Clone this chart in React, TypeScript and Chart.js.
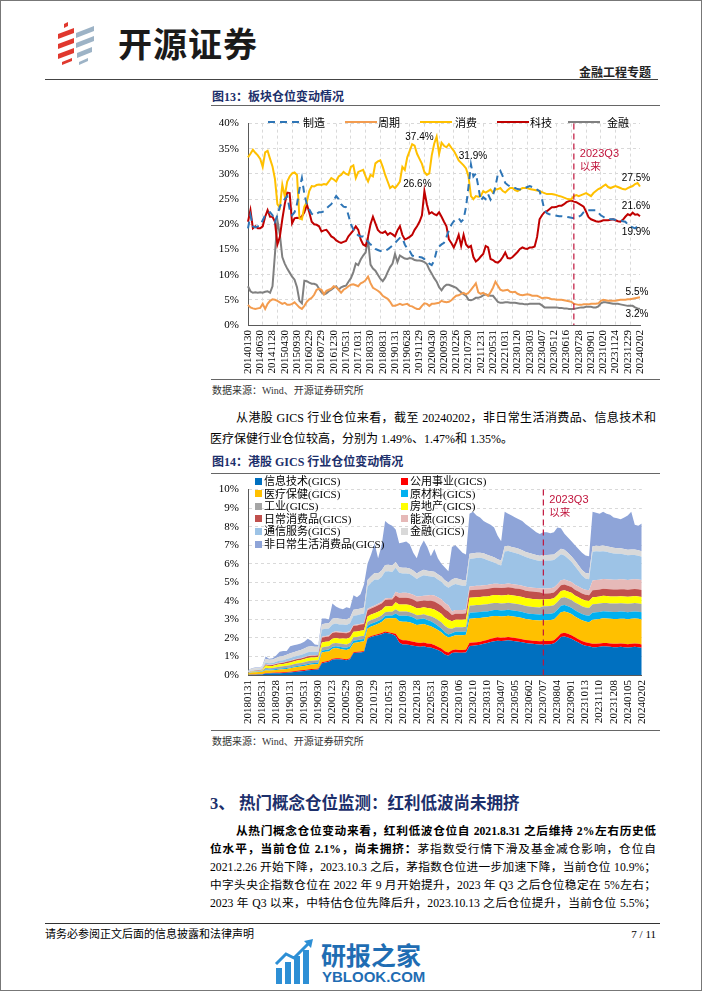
import React, { useEffect, useRef } from 'react';
import { Chart, registerables } from 'chart.js';

Chart.register(...registerables);

// ---------------- Chart 1 data (图13) ----------------
const sectorTickLabels = ['20140130','20140630','20141128','20150430','20150930','20160229','20160729','20161230','20170531','20171031','20180330','20180831','20190131','20190628','20191129','20200430','20200930','20210226','20210730','20211231','20220531','20221031','20230120','20230303','20230407','20230512','20230616','20230728','20230901','20231020','20231124','20231229','20240202'];
const sectorSeriesNames = ['制造', '周期', '消费', '科技', '金融'];
const sectorManufacturing = [
19.2,21.8,19.6,19.4,19.6,19.8,20.8,21.8,22.2,22.4,
21.8,20.5,21.8,23.5,24.4,25.0,25.6,23.0,21.8,22.4,
24.0,27.0,29.2,26.0,24.0,23.0,22.1,21.8,22.1,22.4,
22.4,22.6,23.1,23.6,24.0,24.8,25.6,25.0,24.0,23.5,
23.4,21.8,20.0,19.0,18.3,17.8,17.6,17.6,17.0,16.5,
16.0,15.7,15.1,14.9,14.7,14.7,14.7,15.0,15.4,15.8,
16.3,16.8,17.3,17.3,16.0,15.2,14.7,13.8,13.6,13.5,
13.5,13.4,13.1,12.6,12.2,11.9,12.8,14.8,15.6,16.0,
16.3,17.5,18.8,19.9,20.6,21.0,21.2,20.5,21.0,23.5,
27.5,31.9,29.5,30.1,27.5,24.7,25.4,25.0,26.0,24.9,
25.8,27.5,30.0,30.6,29.5,28.2,27.8,27.5,27.3,27.2,
27.0,26.9,27.0,27.2,27.4,27.6,27.4,27.2,26.9,26.6,
25.0,22.8,22.2,22.0,21.9,21.8,21.7,21.6,21.6,21.5,
21.5,21.4,21.3,21.2,21.3,21.5,21.8,22.4,22.8,22.8,
22.8,22.8,22.8,22.3,21.8,21.5,21.2,21.1,21.0,21.0,
20.9,20.8,20.8,20.6,20.5,20.0,19.6,19.4,19.2,19.6,
19.9];
const sectorCyclical = [
4.0,3.5,3.3,3.2,3.3,3.4,4.2,3.2,4.2,4.8,
5.1,5.0,4.8,4.5,4.2,4.4,4.0,4.0,4.2,4.5,
4.0,3.5,3.2,3.8,4.6,5.1,5.4,6.0,7.0,7.2,
7.0,6.1,6.8,7.0,7.2,7.7,7.5,7.0,6.4,7.0,
7.3,7.7,8.0,8.1,7.9,7.7,8.3,8.5,8.9,9.6,
8.3,7.4,7.1,6.8,6.4,5.8,5.5,5.2,4.6,3.8,
3.8,4.0,4.2,4.0,4.1,4.2,3.8,3.7,3.4,3.2,
3.2,3.8,4.3,4.2,3.8,4.2,4.2,4.3,4.4,4.8,
4.6,4.5,4.6,4.9,5.4,5.8,5.9,6.2,6.4,6.1,
6.4,7.0,7.6,8.3,6.5,6.2,6.4,6.1,5.8,6.5,
7.4,8.6,7.8,7.0,6.8,6.9,7.0,6.6,6.5,6.6,
6.2,6.0,5.9,6.0,6.1,6.0,5.8,5.8,5.8,5.6,
5.3,5.4,5.4,5.3,5.1,5.1,5.0,5.0,5.0,4.9,
4.8,4.7,4.6,4.2,4.1,4.0,4.0,4.1,4.1,4.1,
4.2,4.2,4.2,4.3,4.8,5.0,4.9,4.8,4.8,4.8,
4.8,4.9,5.0,5.0,5.0,5.1,5.1,5.2,5.3,5.4,
5.5];
const sectorConsumer = [
33.3,34.0,34.8,34.2,33.7,33.0,31.4,34.3,34.6,33.0,
31.5,29.0,24.0,23.3,27.9,25.6,28.5,29.5,30.1,30.3,
29.8,21.2,21.0,23.5,24.4,26.6,27.6,27.5,27.8,27.9,
27.8,28.0,27.9,28.5,29.2,28.9,28.5,29.5,29.8,30.4,
30.0,29.8,31.4,31.7,29.2,30.4,30.6,30.8,29.5,28.5,
29.8,29.5,32.1,32.5,32.7,31.4,29.8,28.5,27.2,27.6,
27.2,27.8,28.5,31.4,30.8,33.3,34.6,35.9,35.6,34.0,
33.0,32.0,30.4,29.8,30.1,33.7,36.0,37.4,34.0,36.2,
35.6,35.3,35.9,35.2,34.6,33.7,32.7,32.2,31.7,31.1,
29.5,25.6,25.0,25.6,25.5,25.6,26.6,26.3,26.6,26.9,
26.3,26.9,27.0,27.2,26.6,26.3,26.8,27.2,27.2,26.8,
26.6,26.9,27.2,27.2,27.2,27.0,26.9,26.8,26.7,26.6,
26.4,26.2,26.0,26.0,26.0,25.9,25.8,25.6,25.5,25.3,
25.1,25.0,25.0,25.6,25.8,25.6,25.8,26.0,26.2,25.9,
25.6,26.2,26.6,27.0,27.2,27.6,27.9,27.4,27.2,27.4,
27.6,27.4,27.2,27.0,26.9,27.2,27.4,27.6,28.0,28.2,
27.5];
const sectorTech = [
20.5,22.8,19.2,19.6,19.2,19.2,19.6,21.5,22.8,21.5,
21.5,20.5,16.0,17.5,21.0,24.0,26.3,26.2,20.2,21.2,
21.3,21.2,21.6,22.4,24.0,22.4,20.5,20.0,19.9,19.6,
18.6,18.8,18.9,18.3,17.6,17.3,16.8,16.5,16.3,16.5,
16.7,17.6,18.2,18.8,19.6,18.9,17.0,16.0,15.7,17.5,
20.0,21.5,20.2,18.9,18.4,18.3,18.6,17.9,18.3,18.0,
17.6,18.8,19.6,17.9,17.0,17.2,17.5,17.9,18.9,19.6,
20.5,21.8,26.6,24.0,22.1,22.4,22.0,21.8,22.4,21.5,
20.5,19.6,17.0,16.3,15.4,16.5,17.9,15.7,17.9,16.0,
15.4,15.7,13.5,12.6,13.0,13.6,14.1,15.7,15.4,13.1,
12.9,12.5,12.4,12.8,13.5,14.4,13.3,13.2,13.5,14.0,
14.5,15.1,15.4,15.2,15.1,15.4,15.4,15.6,17.5,21.0,
21.8,22.4,22.6,23.0,23.4,23.4,23.5,23.7,23.7,24.0,
24.4,24.6,24.7,24.5,24.4,24.1,23.8,23.5,22.5,21.4,
21.0,20.8,20.6,20.5,20.6,20.8,20.8,20.8,20.9,21.0,
20.8,20.6,20.5,20.9,21.5,22.0,21.8,22.3,21.9,22.0,
21.6];
const sectorFinance = [
7.7,6.7,6.4,6.5,6.4,6.5,6.4,6.6,6.7,6.4,
7.7,14.1,20.8,18.0,13.5,12.2,11.2,10.4,9.6,9.0,
7.5,4.8,4.3,8.8,8.7,8.4,8.2,8.2,8.0,7.2,
6.5,6.1,6.3,6.7,7.0,7.4,7.7,7.0,7.5,7.7,
7.8,8.6,9.3,10.5,12.2,11.9,13.0,13.8,14.4,17.0,
12.0,11.2,10.8,10.0,9.2,8.7,9.4,10.5,11.5,12.2,
14.1,12.5,13.8,13.5,13.2,13.1,13.3,13.2,12.9,12.8,
12.8,12.7,12.5,12.1,11.0,10.2,9.3,8.6,7.5,6.9,
7.6,8.0,8.0,7.8,7.6,7.4,6.9,6.5,6.1,5.8,
5.0,4.9,5.1,5.4,5.4,5.6,5.9,6.1,5.9,5.8,
5.8,5.2,4.6,4.4,4.4,4.5,4.5,4.4,4.4,4.4,
4.3,4.2,4.2,4.1,4.1,4.2,4.2,4.2,4.2,4.2,
3.9,3.5,3.5,3.5,3.5,3.5,3.5,3.4,3.4,3.3,
3.3,3.2,3.2,3.2,3.3,3.4,3.5,3.5,3.6,3.6,
3.6,3.5,3.5,3.7,4.3,4.5,4.5,4.4,4.3,4.2,
4.2,4.2,4.1,4.0,3.9,3.8,3.8,3.8,3.5,3.3,
3.2];
const sectorQ3Index = 133;
const sectorCallouts = [
  { series: 2, at: 77, text: '37.4%' },
  { series: 3, at: 72, text: '26.6%' },
  { series: 0, at: 91, text: '31.9%' },
  { series: 2, at: 160, text: '27.5%' },
  { series: 3, at: 160, text: '21.6%' },
  { series: 0, at: 160, text: '19.9%' },
  { series: 1, at: 160, text: '5.5%' },
  { series: 4, at: 160, text: '3.2%' },
];

// ---------------- Chart 2 data (图14) ----------------
const gicsTickLabels = ['20180131','20180531','20180928','20190131','20190531','20190930','20200123','20200529','20200930','20210129','20210531','20210930','20220128','20220531','20220930','20230106','20230210','20230310','20230407','20230505','20230602','20230707','20230804','20230901','20231013','20231110','20231208','20240105','20240202'];
const gicsNames = ['信息技术(GICS)', '公用事业(GICS)', '医疗保健(GICS)', '原材料(GICS)', '工业(GICS)', '房地产(GICS)', '日常消费品(GICS)', '能源(GICS)', '通信服务(GICS)', '金融(GICS)', '非日常生活消费品(GICS)'];
const gicsIT = [
0.01,0.02,0.02,0.03,0.03,
0.08,0.08,0.09,0.1,0.1,0.11,0.12,0.14,0.16,0.18,0.2,0.22,0.25,0.27,0.28,0.3,
0.64,0.68,0.72,0.82,0.85,0.85,0.82,0.8,0.85,1.18,1.2,1.22,1.25,
1.95,2.05,2.1,2.15,2.2,2.28,2.25,2.2,
2.1,1.75,1.65,1.65,1.62,1.58,1.55,1.52,1.55,
1.5,1.48,1.42,1.35,1.25,1.1,1.04,
1.18,1.22,1.2,1.2,1.22,
1.57,1.58,1.6,1.63,1.68,1.72,1.78,1.82,1.85,1.83,1.85,1.88,1.85,1.82,1.8,1.76,1.72,1.7,1.68,1.66,1.65,
1.65,1.65,1.66,1.7,1.85,2.05,2.08,2.02,1.95,1.85,1.75,1.65,1.58,1.55,1.5,1.5,1.52,1.55,1.54,1.52,1.5,1.5,1.52,1.5,1.48,1.5,1.52,1.5,1.47];
const gicsUtilities = [
0.01,0.01,0.01,0.01,0.01,
0.03,0.03,0.03,0.03,0.04,0.04,0.04,0.04,0.04,0.05,0.05,0.05,0.05,0.05,0.05,0.05,
0.05,0.05,0.05,0.05,0.05,0.05,0.05,0.05,0.05,0.05,0.05,0.05,0.05,
0.06,0.06,0.06,0.06,0.06,0.06,0.06,0.06,
0.12,0.2,0.22,0.22,0.22,0.22,0.2,0.2,0.2,
0.2,0.2,0.2,0.18,0.18,0.18,0.18,
0.15,0.15,0.15,0.15,0.15,
0.17,0.17,0.17,0.17,0.17,0.17,0.17,0.18,0.18,0.18,0.17,0.17,0.17,0.17,0.17,0.17,0.17,0.17,0.17,0.17,0.17,
0.18,0.18,0.18,0.18,0.18,0.19,0.2,0.2,0.19,0.18,0.18,0.18,0.18,0.18,0.18,0.18,0.18,0.18,0.18,0.18,0.18,0.18,0.18,0.18,0.18,0.18,0.18,0.18,0.18];
const gicsHealthCare = [
0.06,0.1,0.12,0.12,0.13,
0.14,0.13,0.13,0.14,0.15,0.16,0.17,0.18,0.2,0.2,0.21,0.22,0.23,0.24,0.25,0.25,
0.52,0.52,0.5,0.55,0.55,0.52,0.5,0.5,0.52,0.5,0.5,0.52,0.52,
0.5,0.5,0.52,0.55,0.6,0.7,0.75,0.8,
0.85,0.95,1.0,1.0,1.0,0.98,0.95,1.0,1.0,
0.98,0.95,0.92,0.9,0.88,0.85,0.8,
0.75,0.78,0.8,0.8,0.8,
1.3,1.3,1.3,1.28,1.25,1.22,1.2,1.18,1.15,1.15,1.15,1.15,1.15,1.15,1.15,1.15,1.13,1.12,1.12,1.12,1.12,
1.12,1.12,1.12,1.12,1.15,1.15,1.15,1.15,1.15,1.12,1.12,1.12,1.12,1.12,1.3,1.32,1.32,1.33,1.33,1.33,1.34,1.34,1.34,1.35,1.35,1.35,1.35,1.35,1.35];
const gicsMaterials = [
0.01,0.02,0.02,0.02,0.03,
0.04,0.04,0.04,0.05,0.05,0.05,0.05,0.05,0.06,0.06,0.06,0.06,0.07,0.07,0.07,0.07,
0.1,0.1,0.1,0.1,0.1,0.1,0.12,0.12,0.12,0.12,0.12,0.12,0.12,
0.15,0.15,0.15,0.15,0.15,0.15,0.15,0.15,
0.25,0.3,0.33,0.33,0.33,0.32,0.3,0.3,0.3,
0.28,0.27,0.25,0.22,0.2,0.18,0.17,
0.17,0.18,0.18,0.18,0.18,
0.32,0.32,0.32,0.32,0.32,0.32,0.32,0.32,0.32,0.32,0.32,0.32,0.32,0.32,0.32,0.32,0.32,0.32,0.32,0.32,0.32,
0.34,0.34,0.34,0.34,0.34,0.34,0.34,0.34,0.34,0.34,0.34,0.34,0.34,0.34,0.38,0.38,0.38,0.38,0.38,0.38,0.38,0.38,0.38,0.38,0.38,0.38,0.38,0.38,0.38];
const gicsIndustrials = [
0.01,0.02,0.02,0.02,0.03,
0.1,0.09,0.09,0.1,0.11,0.11,0.12,0.12,0.12,0.13,0.13,0.14,0.14,0.14,0.13,0.13,
0.18,0.18,0.18,0.18,0.18,0.18,0.18,0.18,0.18,0.18,0.18,0.18,0.18,
0.2,0.2,0.2,0.2,0.2,0.2,0.2,0.2,
0.22,0.22,0.22,0.22,0.22,0.22,0.22,0.22,0.22,
0.25,0.27,0.3,0.32,0.33,0.33,0.33,
0.25,0.25,0.25,0.25,0.25,
0.38,0.38,0.38,0.38,0.38,0.38,0.38,0.38,0.38,0.38,0.38,0.38,0.38,0.38,0.38,0.38,0.38,0.38,0.38,0.38,0.38,
0.42,0.42,0.42,0.42,0.42,0.42,0.42,0.42,0.42,0.42,0.42,0.42,0.42,0.42,0.45,0.45,0.45,0.45,0.45,0.45,0.45,0.45,0.45,0.45,0.45,0.45,0.45,0.45,0.45];
const gicsRealEstate = [
0.01,0.02,0.02,0.02,0.03,
0.12,0.11,0.11,0.12,0.13,0.13,0.14,0.15,0.15,0.16,0.16,0.17,0.18,0.18,0.17,0.17,
0.26,0.26,0.26,0.26,0.26,0.26,0.3,0.3,0.3,0.3,0.3,0.3,0.3,
0.3,0.3,0.3,0.3,0.3,0.3,0.3,0.3,
0.38,0.38,0.38,0.38,0.38,0.38,0.38,0.38,0.38,
0.4,0.42,0.44,0.45,0.46,0.46,0.46,
0.4,0.4,0.4,0.4,0.4,
0.43,0.43,0.43,0.43,0.43,0.43,0.43,0.43,0.43,0.43,0.43,0.43,0.43,0.43,0.43,0.43,0.43,0.43,0.43,0.43,0.43,
0.38,0.38,0.38,0.38,0.38,0.38,0.38,0.38,0.38,0.38,0.38,0.38,0.38,0.38,0.38,0.38,0.38,0.38,0.38,0.38,0.38,0.38,0.38,0.38,0.38,0.38,0.38,0.38,0.38];
const gicsStaples = [
0.01,0.01,0.02,0.02,0.02,
0.05,0.05,0.05,0.06,0.06,0.06,0.07,0.07,0.08,0.08,0.08,0.09,0.09,0.09,0.09,0.09,
0.26,0.26,0.27,0.3,0.32,0.32,0.3,0.3,0.3,0.32,0.32,0.33,0.33,
0.33,0.33,0.34,0.35,0.35,0.36,0.36,0.36,
0.37,0.37,0.37,0.37,0.37,0.37,0.37,0.37,0.37,
0.4,0.42,0.44,0.44,0.44,0.44,0.44,
0.33,0.33,0.33,0.33,0.33,
0.4,0.4,0.4,0.4,0.4,0.4,0.4,0.4,0.4,0.4,0.4,0.4,0.4,0.4,0.4,0.4,0.4,0.4,0.4,0.4,0.4,
0.31,0.31,0.31,0.31,0.31,0.31,0.31,0.31,0.31,0.31,0.31,0.31,0.31,0.31,0.38,0.38,0.38,0.38,0.38,0.38,0.38,0.38,0.38,0.38,0.38,0.38,0.38,0.38,0.38];
const gicsEnergy = [
0.01,0.01,0.01,0.01,0.01,
0.02,0.02,0.02,0.02,0.02,0.02,0.02,0.02,0.02,0.02,0.02,0.02,0.02,0.02,0.02,0.02,
0.05,0.05,0.05,0.05,0.05,0.05,0.05,0.05,0.05,0.05,0.05,0.05,0.05,
0.08,0.08,0.08,0.08,0.08,0.08,0.08,0.08,
0.2,0.24,0.26,0.26,0.26,0.26,0.26,0.26,0.26,
0.28,0.3,0.32,0.34,0.34,0.34,0.34,
0.2,0.2,0.2,0.2,0.2,
0.21,0.21,0.21,0.21,0.21,0.21,0.21,0.21,0.21,0.21,0.21,0.21,0.21,0.21,0.21,0.21,0.21,0.21,0.21,0.21,0.21,
0.27,0.27,0.27,0.27,0.27,0.27,0.27,0.27,0.27,0.27,0.27,0.27,0.27,0.27,0.53,0.53,0.53,0.53,0.53,0.53,0.53,0.53,0.53,0.53,0.53,0.53,0.53,0.53,0.53];
const gicsComms = [
0.02,0.03,0.03,0.03,0.04,
0.1,0.09,0.09,0.1,0.12,0.12,0.13,0.15,0.15,0.16,0.17,0.18,0.2,0.2,0.19,0.18,
0.4,0.4,0.38,0.42,0.42,0.4,0.4,0.4,0.42,0.5,0.5,0.5,0.52,
1.2,1.3,1.4,1.3,1.35,1.45,1.45,1.4,
1.3,1.1,1.05,1.05,1.05,1.0,0.95,1.05,1.1,
1.05,1.0,1.0,0.95,0.95,0.95,0.95,
1.4,1.4,1.35,1.3,1.28,
1.48,1.5,1.5,1.5,1.45,1.35,1.25,1.15,1.05,1.0,1.75,1.75,1.72,1.7,1.67,1.63,1.6,1.57,1.53,1.5,1.47,
1.5,1.5,1.5,1.48,1.45,1.4,1.3,1.2,1.1,1.0,0.85,0.7,0.6,0.6,1.55,1.55,1.52,1.5,1.48,1.45,1.42,1.4,1.38,1.35,1.33,1.32,1.3,1.28,1.26];
const gicsFinancials = [
0.08,0.1,0.1,0.1,0.1,
0.2,0.18,0.18,0.2,0.22,0.23,0.23,0.25,0.25,0.26,0.27,0.28,0.3,0.29,0.27,0.26,
0.28,0.28,0.28,0.3,0.3,0.3,0.3,0.3,0.3,0.32,0.32,0.32,0.32,
0.35,0.35,0.35,0.35,0.35,0.35,0.35,0.35,
0.3,0.3,0.3,0.3,0.3,0.3,0.3,0.3,0.3,
0.28,0.28,0.28,0.28,0.28,0.28,0.28,
0.32,0.32,0.32,0.32,0.32,
0.28,0.28,0.28,0.28,0.28,0.28,0.28,0.28,0.28,0.28,0.28,0.28,0.28,0.28,0.28,0.28,0.28,0.28,0.28,0.28,0.28,
0.3,0.3,0.3,0.3,0.3,0.3,0.3,0.3,0.3,0.3,0.3,0.3,0.3,0.3,0.3,0.3,0.3,0.3,0.3,0.3,0.3,0.3,0.3,0.3,0.3,0.3,0.3,0.3,0.3];
const gicsDiscretionary = [
0.02,0.02,0.03,0.02,0.03,
0.12,0.05,0.07,0.13,0.25,0.27,0.21,0.38,0.37,0.35,0.35,0.37,0.42,0.3,0.13,0.1,
0.31,0.27,0.21,0.82,0.62,0.57,0.53,0.65,0.51,0.78,0.66,0.76,1.26,
0.88,1.18,1.6,0.81,1.36,2.37,2.2,2.15,
1.76,1.29,1.37,1.42,1.3,0.97,0.82,1.3,1.57,
1.28,0.81,1.23,0.87,0.69,0.69,0.61,
1.75,1.77,1.62,1.47,1.37,
2.16,2.23,2.01,1.9,1.73,1.72,1.68,1.61,1.26,1.03,1.86,1.73,1.69,1.64,1.59,1.57,1.49,1.41,1.33,1.23,1.17,
1.23,1.23,1.17,1.2,1.3,1.1,0.87,0.83,0.8,0.83,0.88,0.93,0.95,0.93,1.85,1.78,1.74,1.82,1.75,1.75,1.64,1.61,1.56,1.7,1.84,2.03,1.33,1.32,1.49];
const gicsQ3Index = 84;

// ---------------- styles ----------------
const SERIF = "'Liberation Serif', 'Noto Sans CJK SC', serif";
const CJK = "'Noto Sans CJK SC', 'Liberation Serif', sans-serif";
const NAVY = '#1c2f6b';
const Q3RED = '#C0143C';
const sectorColors = ['#2E75B6', '#F39C4F', '#FFC000', '#C00000', '#808080'];
const gicsColors = ['#0070C0', '#FF0000', '#FFC000', '#00B0F0', '#A5A5A5', '#FFFF00', '#C0504D', '#E6B9B8', '#9DC3E6', '#D9D9D9', '#8EA4D8'];

function Txt(props: { x: number; y: number; size: number; bold?: boolean; color?: string; font?: string; w?: number; justify?: boolean; align?: 'left' | 'right'; spacing?: number; children: React.ReactNode }) {
  const { x, y, size, bold, color, font, w, justify, align, spacing, children } = props;
  const lh = Math.round(size * 1.3);
  const style: React.CSSProperties = {
    position: 'absolute', top: y - lh / 2, height: lh, lineHeight: lh + 'px', fontSize: size,
    fontWeight: bold ? 700 : 400, color: color || '#000', fontFamily: font || SERIF,
    whiteSpace: justify ? 'normal' : 'nowrap', overflow: 'visible',
  };
  if (spacing) style.letterSpacing = spacing;
  if (align === 'right') style.right = 702 - x; else style.left = x;
  if (w) style.width = w;
  if (justify) { style.textAlign = 'justify'; (style as any).textAlignLast = 'justify'; }
  return <div style={style}>{children}</div>;
}

const sectorNotesPlugin = {
  id: 'sectorNotes',
  afterDatasetsDraw(chart: any) {
    const { ctx, chartArea, scales } = chart;
    const x = scales.x.getPixelForValue(sectorQ3Index);
    ctx.save();
    ctx.strokeStyle = Q3RED; ctx.lineWidth = 1.2; ctx.setLineDash([6, 4]);
    ctx.beginPath(); ctx.moveTo(x, chartArea.top); ctx.lineTo(x, chartArea.bottom); ctx.stroke();
    ctx.setLineDash([]);
    ctx.fillStyle = Q3RED; ctx.textAlign = 'left'; ctx.textBaseline = 'middle';
    ctx.font = "11px 'Liberation Sans', 'Noto Sans CJK SC', sans-serif";
    ctx.fillText('2023Q3', x + 6, chartArea.top + 30);
    ctx.font = "10.5px 'Noto Sans CJK SC', sans-serif";
    ctx.fillText('以来', x + 6, chartArea.top + 42);
    const offsets = [[-3, 1, 'right'], [-7, -7, 'center'], [2, -8, 'center'], [-4, -8, 'center'], [-4, -10, 'center'], [-4, 7, 'center'], [-3, -5, 'center'], [-3, 5, 'center']];
    ctx.fillStyle = '#000';
    ctx.font = "10px 'Liberation Sans Narrow', 'Liberation Sans', sans-serif";
    sectorCallouts.forEach((c, k) => {
      const pt = chart.getDatasetMeta(c.series).data[c.at];
      if (!pt) return;
      ctx.textAlign = offsets[k][2];
      ctx.fillText(c.text, pt.x + (offsets[k][0] as number), pt.y + (offsets[k][1] as number));
    });
    ctx.restore();
  },
};

const gicsNotesPlugin = {
  id: 'gicsNotes',
  afterDatasetsDraw(chart: any) {
    const { ctx, chartArea, scales } = chart;
    const x = scales.x.getPixelForValue(gicsQ3Index);
    ctx.save();
    ctx.strokeStyle = Q3RED; ctx.lineWidth = 1.2; ctx.setLineDash([6, 4]);
    ctx.beginPath(); ctx.moveTo(x, chartArea.top); ctx.lineTo(x, chartArea.bottom); ctx.stroke();
    ctx.setLineDash([]);
    ctx.fillStyle = Q3RED; ctx.textAlign = 'left'; ctx.textBaseline = 'middle';
    ctx.font = "11px 'Liberation Sans', 'Noto Sans CJK SC', sans-serif";
    ctx.fillText('2023Q3', x + 6, chartArea.top + 10);
    ctx.font = "10.5px 'Noto Sans CJK SC', sans-serif";
    ctx.fillText('以来', x + 6, chartArea.top + 22);
    ctx.restore();
  },
};

export default function App() {
  const c1 = useRef<HTMLCanvasElement>(null);
  const c2 = useRef<HTMLCanvasElement>(null);

  useEffect(() => {
    const tickFont = { family: "'Liberation Serif', serif", size: 11 };
    const sectorLabels = sectorConsumer.map((_, i) => (i % 5 === 0 ? sectorTickLabels[i / 5] : ''));
    const sectorData = [sectorManufacturing, sectorCyclical, sectorConsumer, sectorTech, sectorFinance];
    const ch1 = new Chart(c1.current!, {
      type: 'line',
      data: {
        labels: sectorLabels,
        datasets: sectorData.map((d, k) => ({
          label: sectorSeriesNames[k], data: d, borderColor: sectorColors[k], backgroundColor: sectorColors[k],
          borderWidth: 2, pointRadius: 0, tension: 0, fill: false,
          borderDash: k === 0 ? [7, 5] : [],
        })),
      },
      options: {
        responsive: false, animation: false, devicePixelRatio: 1,
        layout: { padding: { top: 9, right: 20, left: 0, bottom: 0 } },
        plugins: { legend: { display: false }, tooltip: { enabled: false } },
        scales: {
          x: {
            ticks: { autoSkip: false, maxRotation: 90, minRotation: 90, padding: 5, font: tickFont, color: '#000' },
            grid: { color: (c: any) => (c.index % 6 === 0 ? '#D9D9D9' : 'rgba(0,0,0,0)'), drawTicks: false, lineWidth: 1 },
            border: { display: true, color: '#595959', width: 1, dash: [3, 3] },
            afterFit: (s: any) => { s.height = 53; },
          },
          y: {
            min: 0, max: 40,
            ticks: { stepSize: 5, callback: (v: any) => v + '%', padding: 9, font: tickFont, color: '#000' },
            grid: { color: '#D9D9D9', drawTicks: false, lineWidth: 1 },
            border: { display: true, color: '#595959', width: 1, dash: [3, 3] },
            afterFit: (s: any) => { s.width = 43; },
          },
        },
      },
      plugins: [sectorNotesPlugin],
    } as any);

    const gicsData = [gicsIT, gicsUtilities, gicsHealthCare, gicsMaterials, gicsIndustrials, gicsRealEstate, gicsStaples, gicsEnergy, gicsComms, gicsFinancials, gicsDiscretionary];
    const gicsLabels = gicsIT.map((_, i) => (i % 4 === 0 ? gicsTickLabels[i / 4] : ''));
    const ch2 = new Chart(c2.current!, {
      type: 'line',
      data: {
        labels: gicsLabels,
        datasets: gicsData.map((d, k) => ({
          label: gicsNames[k], data: d, backgroundColor: gicsColors[k], borderColor: gicsColors[k],
          borderWidth: 0, pointRadius: 0, tension: 0, fill: k === 0 ? 'origin' : '-1',
        })),
      },
      options: {
        responsive: false, animation: false, devicePixelRatio: 1,
        layout: { padding: { top: 9, right: 9, left: 0, bottom: 0 } },
        plugins: { legend: { display: false }, tooltip: { enabled: false } },
        scales: {
          x: {
            ticks: { autoSkip: false, maxRotation: 90, minRotation: 90, padding: 5, font: tickFont, color: '#000' },
            grid: { color: 'rgba(0,0,0,0)', drawTicks: false },
            border: { display: true, color: '#595959', width: 1 },
            afterFit: (s: any) => { s.height = 55; },
          },
          y: {
            min: 0, max: 10, stacked: true,
            ticks: { stepSize: 1, callback: (v: any) => v + '%', padding: 9, font: tickFont, color: '#000' },
            grid: { color: '#D9D9D9', drawTicks: false, lineWidth: 1 },
            border: { display: true, color: '#595959', width: 1, dash: [3, 3] },
            afterFit: (s: any) => { s.width = 43; },
          },
        },
      },
      plugins: [gicsNotesPlugin],
    } as any);

    return () => { ch1.destroy(); ch2.destroy(); };
  }, []);

  const sectorLegendPos = [[268, 303], [345, 378], [420, 455], [497, 530], [568, 607]];
  const gicsRows = [481, 493.6, 506.2, 518.8, 531.4, 544];
  const paraSize = 11.7;

  return (
    <div style={{ position: 'absolute', left: 0, top: 0, width: 702, height: 991, background: '#fff', overflow: 'hidden', fontFamily: SERIF }}>
      <div style={{ position: 'absolute', left: 0, top: 0, width: 702, height: 991, border: '1px solid #777', boxSizing: 'border-box' }} />

      {/* header */}
      <svg style={{ position: 'absolute', left: 54, top: 20 }} width={44} height={46} viewBox="0 0 44 46">
        <polygon points="10,4 14,2 14,6 10,8" fill="#E0382E" />
        <polygon points="4,14 20,8 20,13 4,19" fill="#E0382E" />
        <polygon points="4,24 20,18 20,23 4,29" fill="#E0382E" />
        <polygon points="4,34 20,28 20,33 4,39" fill="#E0382E" />
        <polygon points="8,42 18,38 18,41 8,45" fill="#E0382E" />
        <polygon points="22,13 40,6 40,11 22,18" fill="#9DB3C6" />
        <polygon points="22,23 40,16 40,21 22,28" fill="#9DB3C6" />
        <polygon points="23,33 38,27 38,32 23,38" fill="#9DB3C6" />
        <polygon points="25,42 34,38 34,41 25,45" fill="#9DB3C6" />
      </svg>
      <Txt x={118} y={43} size={34} bold font={CJK} color="#1a1a1a" spacing={1}>开源证券</Txt>
      <Txt x={579} y={72} size={12} bold font={CJK} color="#222">金融工程专题</Txt>
      <div style={{ position: 'absolute', left: 45, top: 78.5, width: 613, borderTop: '1.5px solid #444' }} />

      {/* figure 13 */}
      <Txt x={212} y={97} size={12} bold color={NAVY}>图13：板块仓位变动情况</Txt>
      <div style={{ position: 'absolute', left: 211, top: 105, width: 449, borderTop: '1px solid #666' }} />
      <canvas ref={c1} width={455} height={270} style={{ position: 'absolute', left: 205, top: 108, width: 455, height: 270 }} />
      {sectorSeriesNames.map((n, k) => (
        <React.Fragment key={n}>
          <svg style={{ position: 'absolute', left: sectorLegendPos[k][0], top: 117 }} width={34} height={10}>
            <line x1={0} y1={5} x2={32} y2={5} stroke={sectorColors[k]} strokeWidth={2} strokeDasharray={k === 0 ? '7 5' : undefined} />
          </svg>
          <Txt x={sectorLegendPos[k][1]} y={122} size={11} font={CJK}>{n}</Txt>
        </React.Fragment>
      ))}
      <div style={{ position: 'absolute', left: 211, top: 379, width: 449, borderTop: '1px solid #666' }} />
      <Txt x={212} y={390} size={10} color="#333">数据来源：Wind、开源证券研究所</Txt>

      <Txt x={236} y={418} size={12} w={420} justify>从港股 GICS 行业仓位来看，截至 20240202，非日常生活消费品、信息技术和</Txt>
      <Txt x={210} y={438.5} size={12}>医疗保健行业仓位较高，分别为 1.49%、1.47%和 1.35%。</Txt>

      {/* figure 14 */}
      <Txt x={212} y={462} size={12} bold color={NAVY}>图14：港股 GICS 行业仓位变动情况</Txt>
      <div style={{ position: 'absolute', left: 211, top: 473, width: 449, borderTop: '1px solid #666' }} />
      <canvas ref={c2} width={455} height={256} style={{ position: 'absolute', left: 205, top: 474, width: 455, height: 256 }} />
      {gicsNames.map((n, k) => {
        const col = k % 2;
        const row = Math.floor(k / 2);
        const sx = col === 0 ? 255 : 401;
        return (
          <React.Fragment key={n}>
            <div style={{ position: 'absolute', left: sx, top: gicsRows[row] - 3.5, width: 7, height: 7, background: gicsColors[k] }} />
            <Txt x={sx + 9} y={gicsRows[row]} size={11}>{n}</Txt>
          </React.Fragment>
        );
      })}
      <div style={{ position: 'absolute', left: 211, top: 730, width: 449, borderTop: '1px solid #666' }} />
      <Txt x={212} y={741} size={10} color="#333">数据来源：Wind、开源证券研究所</Txt>

      {/* section 3 */}
      <Txt x={210} y={803} size={16.5} bold color={NAVY}>3、 热门概念仓位监测：红利低波尚未拥挤</Txt>
      <Txt x={236} y={831.5} size={paraSize} w={420} justify bold>从热门概念仓位变动来看，红利低波仓位自 2021.8.31 之后维持 2%左右历史低</Txt>
      <Txt x={210} y={849.5} size={paraSize} w={446} justify><b>位水平，当前仓位 2.1%，尚未拥挤：</b>茅指数受行情下滑及基金减仓影响，仓位自</Txt>
      <Txt x={210} y={867.5} size={paraSize} w={446} justify>2021.2.26 开始下降，2023.10.3 之后，茅指数仓位进一步加速下降，当前仓位 10.9%；</Txt>
      <Txt x={210} y={885.5} size={paraSize} w={446} justify>中字头央企指数仓位在 2022 年 9 月开始提升，2023 年 Q3 之后仓位稳定在 5%左右；</Txt>
      <Txt x={210} y={903.5} size={paraSize} w={446} justify>2023 年 Q3 以来，中特估仓位先降后升，2023.10.13 之后仓位提升，当前仓位 5.5%；</Txt>

      {/* footer */}
      <div style={{ position: 'absolute', left: 45, top: 923, width: 615, borderTop: '1px solid #333' }} />
      <Txt x={45} y={933.5} size={11}>请务必参阅正文后面的信息披露和法律声明</Txt>
      <Txt x={656} y={933.5} size={11} align="right">7 / 11</Txt>

      {/* watermark */}
      <svg style={{ position: 'absolute', left: 274, top: 938 }} width={42} height={48} viewBox="0 0 42 48">
        <rect x={2} y={30} width={6} height={16} fill="#2D8FD5" />
        <rect x={11} y={24} width={6} height={22} fill="#2D8FD5" />
        <rect x={20} y={18} width={6} height={28} fill="#2D8FD5" />
        <rect x={29} y={12} width={6} height={34} fill="#2D8FD5" />
        <polyline points="2,26 12,16 20,20 36,4" fill="none" stroke="#2D8FD5" strokeWidth={3} />
        <polygon points="30,3 39,1 37,10" fill="#2D8FD5" />
      </svg>
      <Txt x={321} y={954} size={25} bold font={CJK} color="#1f6db3">研报之家</Txt>
      <Txt x={322} y={977} size={15} bold font="'Liberation Sans', sans-serif" color="#1f6db3">YBLOOK.COM</Txt>
    </div>
  );
}
